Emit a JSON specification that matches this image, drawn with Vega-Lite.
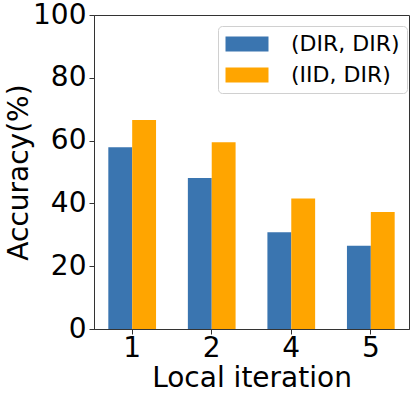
{
  "$schema": "https://vega.github.io/schema/vega-lite/v6.json",
  "width": 315,
  "height": 314,
  "autosize": {"type": "none"},
  "padding": {"left": 94, "top": 15, "right": 6, "bottom": 68},
  "background": "white",
  "data": {"values": [
    {"iter": "1", "setting": "(DIR, DIR)", "acc": 57.9},
    {"iter": "1", "setting": "(IID, DIR)", "acc": 66.6},
    {"iter": "2", "setting": "(DIR, DIR)", "acc": 48.1},
    {"iter": "2", "setting": "(IID, DIR)", "acc": 59.5},
    {"iter": "4", "setting": "(DIR, DIR)", "acc": 30.8},
    {"iter": "4", "setting": "(IID, DIR)", "acc": 41.6},
    {"iter": "5", "setting": "(DIR, DIR)", "acc": 26.5},
    {"iter": "5", "setting": "(IID, DIR)", "acc": 37.3}
  ]},
  "mark": {"type": "bar"},
  "encoding": {
    "x": {"field": "iter", "type": "nominal", "sort": ["1", "2", "4", "5"],
      "scale": {"paddingInner": 0.4, "paddingOuter": 0.18},
      "axis": {"title": "Local iteration", "labelAngle": 0, "labelPadding": 0, "titleY": 57, "titleBaseline": "alphabetic"}},
    "xOffset": {"field": "setting", "type": "nominal", "scale": {"paddingInner": 0, "paddingOuter": 0}},
    "y": {"field": "acc", "type": "quantitative", "scale": {"domain": [0, 100], "nice": false},
      "axis": {"title": "Accuracy(%)", "values": [0, 20, 40, 60, 80, 100], "grid": false, "titleX": -67, "titleY": 157, "titleBaseline": "alphabetic", "titleAngle": -90}},
    "color": {"field": "setting", "type": "nominal",
      "scale": {"domain": ["(DIR, DIR)", "(IID, DIR)"], "range": ["#3a75b0", "#ffa500"]},
      "legend": {"title": null, "orient": "none", "legendX": 124, "legendY": 11,
        "symbolType": "M-2,-0.7L2,-0.7L2,0.7L-2,0.7Z", "symbolSize": 462, "symbolStrokeWidth": 0, "symbolOffset": 11,
        "labelFontSize": 22, "labelFont": "DejaVu Sans", "labelColor": "black", "labelOffset": 33,
        "rowPadding": 9, "padding": 7, "strokeColor": "#d0d0d0", "fillColor": "white", "cornerRadius": 4}}
  },
  "config": {
    "view": {"stroke": "#333", "strokeWidth": 1},
    "axis": {
      "labelFont": "DejaVu Sans", "labelFontSize": 28, "labelColor": "black",
      "titleFont": "DejaVu Sans", "titleFontSize": 28, "titleFontWeight": "normal", "titleColor": "black",
      "domainColor": "#333", "tickColor": "#333", "tickSize": 5, "labelPadding": 3
    }
  }
}
